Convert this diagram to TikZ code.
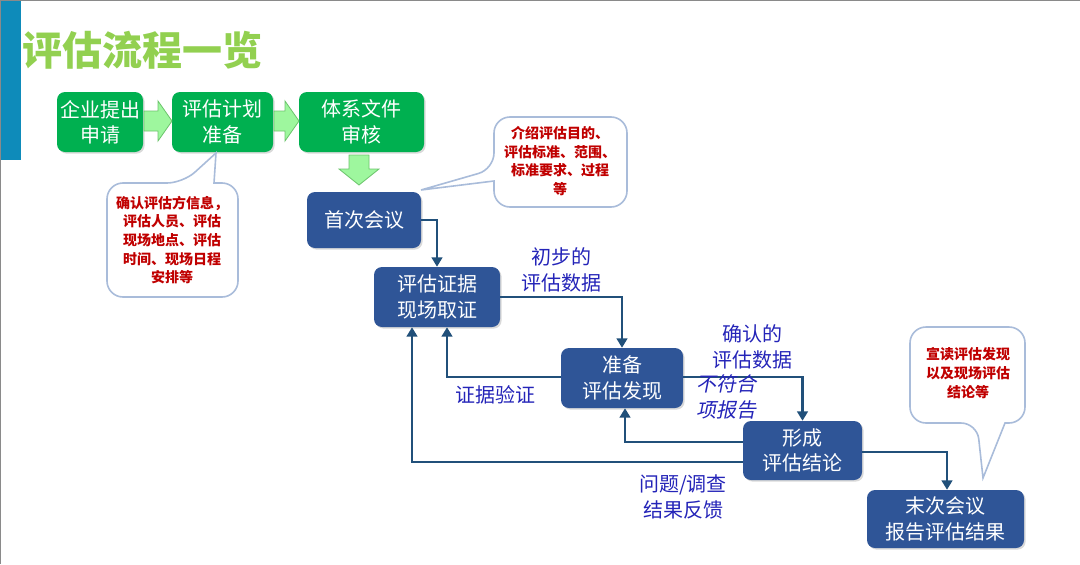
\documentclass[tikz,border=0pt]{standalone}
\usepackage{fontspec}
\setmainfont{Noto Sans CJK SC}
\newfontfamily\cjkit[FakeSlant=0.2]{Noto Sans CJK SC}
\usetikzlibrary{arrows.meta,calc,shadows}
\definecolor{barblue}{HTML}{0E8BBA}
\definecolor{titlegreen}{HTML}{92D050}
\definecolor{boxgreen}{HTML}{00B050}
\definecolor{arrowfill}{HTML}{9EF79E}
\definecolor{arrowedge}{HTML}{6CC46C}
\definecolor{boxblue}{HTML}{2F5597}
\definecolor{connblue}{HTML}{21507A}
\definecolor{lblblue}{HTML}{2424B8}
\definecolor{callred}{HTML}{C00000}
\definecolor{callborder}{HTML}{A9BCDA}
\definecolor{framegray}{HTML}{8A8A8A}
\tikzset{
  boxbase/.style={rectangle, rounded corners=6pt, text=white, align=center, inner sep=0pt,
    font=\fontsize{15}{19}\selectfont,
    drop shadow={shadow xshift=1.2pt, shadow yshift=-1.2pt, opacity=0.3}},
  greenbox/.style={boxbase, fill=boxgreen},
  bluebox/.style={boxbase, fill=boxblue},
  conn/.style={draw=connblue, line width=1.6pt, -{Triangle[length=7pt,width=8pt]}},
  lbl/.style={text=lblblue, font=\fontsize{15}{19}\selectfont, align=center},
  calltext/.style={text=callred, font=\bfseries\fontsize{10.5}{14}\selectfont, align=center},
  callout/.style={draw=callborder, line width=1.2pt, fill=white},
  fatarrow/.style={draw=arrowedge, line width=0.6pt, fill=arrowfill, line join=miter}
}
\begin{document}
\begin{tikzpicture}[x=0.75pt,y=-0.75pt]
\useasboundingbox (0,0) rectangle (1080,564);
% frame and bar
\draw[framegray, line width=0.75pt] (0.5,563.5) -- (0.5,0.5) -- (1079.5,0.5);
\fill[barblue] (1,1) rectangle (21,160);
% title
\node[text=titlegreen, font=\bfseries\fontsize{30}{36}\selectfont, inner sep=0pt] (title) at (142,50) {评估流程一览};

% green boxes
\node[greenbox, minimum width=64.5pt, minimum height=45pt] (b1) at (100,122) {企业提出\\申请};
\node[greenbox, minimum width=75.75pt, minimum height=45pt] (b2) at (222.5,122) {评估计划\\准备};
\node[greenbox, minimum width=93.75pt, minimum height=45pt] (b3) at (361.5,122) {体系文件\\审核};

% fat arrows
\draw[fatarrow] (144,111) -- (158,111) -- (158,101) -- (172,121) -- (158,141) -- (158,131) -- (144,131) -- cycle;
\draw[fatarrow] (274,111) -- (285,111) -- (285,101) -- (299,121) -- (285,141) -- (285,131) -- (274,131) -- cycle;
\draw[fatarrow] (349,155) -- (369,155) -- (369,169) -- (379,169) -- (359,185) -- (339,169) -- (349,169) -- cycle;

% blue boxes
\node[bluebox, minimum width=85.5pt, minimum height=42pt] (s1) at (364,220) {首次会议};
\node[bluebox, minimum width=94.5pt, minimum height=45pt] (s2) at (437,297) {评估证据\\现场取证};
\node[bluebox, minimum width=91.5pt, minimum height=45pt] (s3) at (622,378) {准备\\评估发现};
\node[bluebox, minimum width=89.25pt, minimum height=44.25pt] (s4) at (802.5,450.5) {形成\\评估结论};
\node[bluebox, minimum width=117.75pt, minimum height=43.5pt] (s5) at (945.5,519) {末次会议\\报告评估结果};

% connectors
\draw[conn] (s1.east) -| (s2.north);
\draw[conn] (s2.east) -| (s3.north);
\draw[conn] ($(s3.east)+(0,-1)$) -| (s4.north);
\draw[conn] ($(s4.west)+(0,-8.5)$) -| ($(s3.south)+(3,0)$);
\draw[conn] ($(s4.west)+(0,11.5)$) -| ($(s2.south)+(-25,0)$);
\draw[conn] ($(s3.west)+(0,-1)$) -| ($(s2.south)+(10,0)$);
\draw[conn] ($(s4.east)+(0,1.5)$) -| ($(s5.north)+(1.5,0)$);

% labels
\node[lbl] (l1) at (561,270) {初步的\\评估数据};
\node[lbl] (l2) at (752,347) {确认的\\评估数据};
\node[lbl, font=\cjkit\fontsize{15}{19}\selectfont] (l3) at (726,397) {不符合\\项报告};
\node[lbl] (l4) at (495,395) {证据验证};
\node[lbl] (l5) at (683,497) {问题/调查\\结果反馈};

% callout 1
\draw[callout, rounded corners=12pt] (183,183) [sharp corners] -- (216,153) -- (214,183) [rounded corners=12pt] -- (238,183) -- (238,297) -- (107,297) -- (107,183) -- cycle;
\node[calltext] (c1) at (172,240) {确认评估方信息，\\评估人员、评估\\现场地点、评估\\时间、现场日程\\安排等};

% callout 2
\draw[callout, rounded corners=12pt] (494,169) [sharp corners] -- (421,190) -- (494,181) [rounded corners=12pt] -- (494,207) -- (627,207) -- (627,117) -- (494,117) -- cycle;
\node[calltext] (c2) at (560,161) {介绍评估目的、\\评估标准、范围、\\标准要求、过程\\等};

% callout 3
\draw[callout, rounded corners=12pt] (977,423) [sharp corners] -- (983,478) -- (1005,423) [rounded corners=12pt] -- (1025,423) -- (1025,327) -- (910,327) -- (910,423) -- cycle;
\node[calltext] (c3) at (968,373) {宣读评估发现\\以及现场评估\\结论等};
\end{tikzpicture}
\end{document}
